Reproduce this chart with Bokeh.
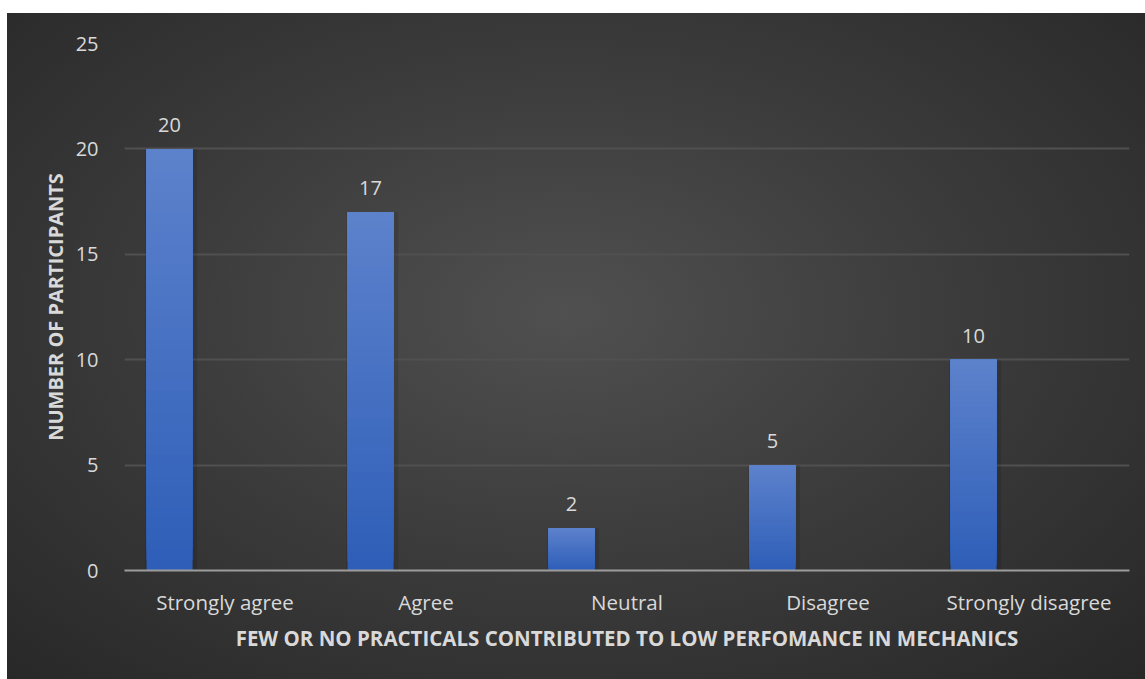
from bokeh.plotting import figure
from bokeh.models import FactorRange, ColumnDataSource, SingleIntervalTicker
from bokeh.transform import dodge
from bokeh.core.properties import value
from bokeh.embed import file_html
from bokeh.resources import INLINE

# Survey responses
categories = ["Strongly agree", "Agree", "Neutral", "Disagree", "Strongly disagree"]
participants = [20, 17, 2, 5, 10]
y_ticks = [0, 5, 10, 15, 20, 25]

x_title = "FEW OR NO PRACTICALS CONTRIBUTED TO LOW PERFOMANCE IN MECHANICS"
y_title = "NUMBER OF PARTICIPANTS"

FONT = "Open Sans"
TEXT = "#d9d9d9"

p = figure(
    width=1138, height=666,
    x_range=FactorRange(*categories, range_padding=0),
    y_range=(0, 25),
    output_backend="svg", toolbar_location=None,
    min_border_left=117, min_border_right=16,
    min_border_top=30, min_border_bottom=109,
    styles={
        "background": "radial-gradient(ellipse 75% 80% at 49% 45%, #505050 0%, #3c3c3c 45%, #262626 100%)",
        "margin-left": "7px",
        "margin-top": "13px",
    },
)
p.border_fill_color = None
p.background_fill_color = None
p.outline_line_color = None

# Bars: vertical gradient; each band runs from its start up to the bar top,
# drawn bottom-up so later (lighter) bands cover the earlier ones seamlessly
N = 40
top_rgb = (0x5d, 0x82, 0xcc)
bot_rgb = (0x2e, 0x5e, 0xb8)
xs, bottoms, tops, colors = [], [], [], []
for cat, v in zip(categories, participants):
    for i in range(N):
        t = (i + 0.5) / N
        r = round(bot_rgb[0] + (top_rgb[0] - bot_rgb[0]) * t)
        g = round(bot_rgb[1] + (top_rgb[1] - bot_rgb[1]) * t)
        b = round(bot_rgb[2] + (top_rgb[2] - bot_rgb[2]) * t)
        xs.append(cat)
        bottoms.append(v * i / N)
        tops.append(v)
        colors.append("#%02x%02x%02x" % (r, g, b))

slices = ColumnDataSource(dict(x=xs, bottom=bottoms, top=tops, color=colors))
bars = ColumnDataSource(dict(x=categories, top=participants, label=[str(v) for v in participants]))

OFFSET = -0.276
WIDTH = 0.229

# soft shadow behind the bars
p.vbar(x=dodge("x", OFFSET + 0.008, range=p.x_range), top="top", bottom=0, width=WIDTH + 0.03,
       source=bars, fill_color="black", fill_alpha=0.10, line_color=None)
p.vbar(x=dodge("x", OFFSET, range=p.x_range), top="top", bottom="bottom", width=WIDTH,
       source=slices, fill_color="color", line_color=None)

p.text(x=dodge("x", OFFSET, range=p.x_range), y="top", text="label", source=bars,
       text_align="center", text_baseline="middle", y_offset=-24,
       text_color=TEXT, text_font=value(FONT), text_font_size="20px")

# Axes
p.yaxis.ticker = SingleIntervalTicker(interval=5)
p.yaxis.axis_line_color = None
p.yaxis.major_tick_line_color = None
p.yaxis.minor_tick_line_color = None
p.yaxis.major_label_text_color = TEXT
p.yaxis.major_label_text_font = FONT
p.yaxis.major_label_text_font_size = "20px"
p.yaxis.major_label_standoff = 20
p.yaxis.axis_label = y_title
p.yaxis.axis_label_text_color = TEXT
p.yaxis.axis_label_text_font = FONT
p.yaxis.axis_label_text_font_style = "bold"
p.yaxis.axis_label_text_font_size = "20px"
p.yaxis.axis_label_standoff = 4

p.xaxis.axis_line_color = "#9c9c9c"
p.xaxis.axis_line_width = 2
p.xaxis.major_tick_line_color = None
p.xaxis.minor_tick_line_color = None
p.xaxis.major_label_text_color = TEXT
p.xaxis.major_label_text_font = FONT
p.xaxis.major_label_text_font_size = "20.5px"
p.xaxis.major_label_standoff = 11
p.xaxis.axis_label = x_title
p.xaxis.axis_label_text_color = TEXT
p.xaxis.axis_label_text_font = FONT
p.xaxis.axis_label_text_font_style = "bold"
p.xaxis.axis_label_text_font_size = "20.5px"
p.xaxis.axis_label_standoff = 5

p.xgrid.grid_line_color = None
p.ygrid.grid_line_color = "#505050"
p.ygrid.grid_line_width = 2

open("out.html", "w").write(file_html(p, INLINE))
